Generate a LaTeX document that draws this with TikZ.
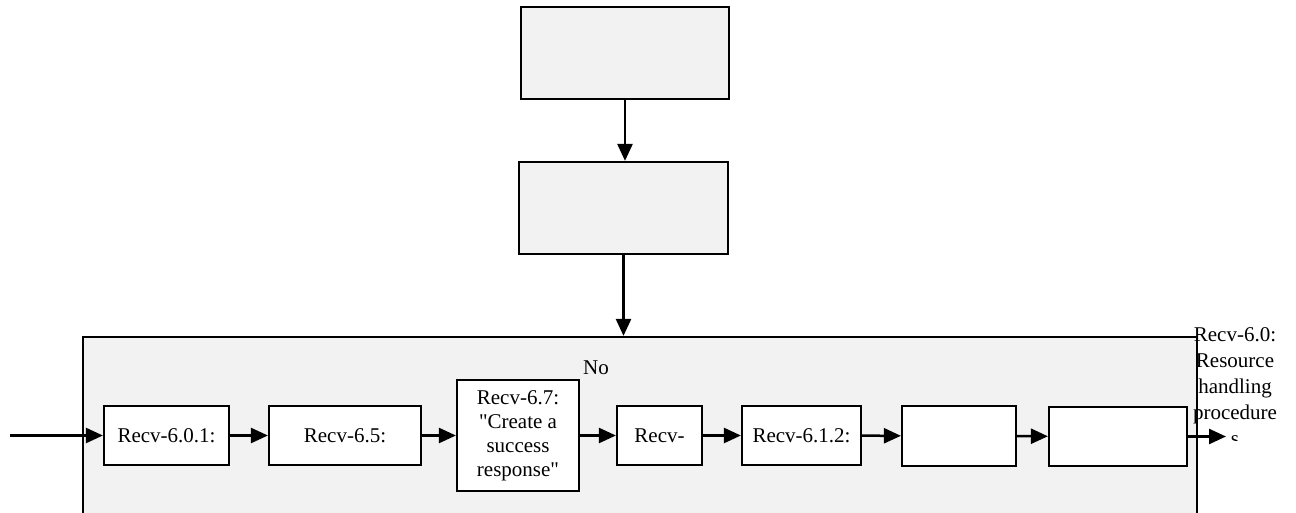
\documentclass[tikz,border=0pt]{standalone}
\usepackage{fontspec}
\setmainfont{Liberation Serif}[Ligatures=TeXOff]
\usetikzlibrary{arrows.meta}
\begin{document}
\begin{tikzpicture}[x=1pt,y=-1pt,
  box/.style={draw=black, line width=2.2pt, inner sep=0pt, fill=white, align=center},
  graybox/.style={box, fill=boxgray},
  arr/.style={line width=2.5pt, -{Triangle[length=17pt,width=15pt]}},
  txt/.style={font=\fontsize{21}{24}\selectfont}
]
\definecolor{boxgray}{HTML}{F2F2F2}
\clip (0,0) rectangle (1296,513);
\fill[white] (0,0) rectangle (1296,513);
% large container
\node[graybox, minimum width=1114pt, minimum height=240pt] (big) at (640,457) {};
% top boxes
\node[graybox, minimum width=208pt, minimum height=92pt] (t1) at (625,53) {};
\node[graybox, minimum width=209pt, minimum height=92pt] (t2) at (623.5,208) {};
% row boxes
\node[box, txt, minimum width=125pt, minimum height=59pt] (r1) at (166.5,435.5) {Recv-6.0.1:};
\node[box, txt, minimum width=152pt, minimum height=59pt] (r2) at (345,435.5) {Recv-6.5:};
\node[box, txt, minimum width=122pt, minimum height=111pt] (r3) at (518,435.5) {Recv-6.7:\\"Create a\\success\\response"};
\node[box, txt, minimum width=85pt, minimum height=59pt] (r4) at (659.5,435.5) {Recv-};
\node[box, txt, minimum width=119pt, minimum height=59pt] (r5) at (801.5,435.5) {Recv-6.1.2:};
\node[box, minimum width=114pt, minimum height=60pt] (r6) at (959,436) {};
\node[box, minimum width=138pt, minimum height=59pt] (r7) at (1118,436.5) {};
% labels
\node[txt, inner sep=0pt] (no) at (596,368) {No};
\begin{scope}
\clip (1150,300) rectangle (1296,440);
\node[font=\fontsize{21}{26}\selectfont, align=center, inner sep=0pt, anchor=north] (res) at (1235,327.5) {Recv-6.0:\\Resource\\handling\\procedure\\s};
\end{scope}
% connectors
\coordinate (src) at (10,435.5);
\coordinate (sink) at (1226,436.5);
\draw[arr] (t1.south) -- (t1.south |- t2.north);
\draw[arr] (t2.south) -- (t2.south |- big.north);
\draw[arr] (src) -- (r1.west);
\draw[arr] (r1) -- (r2);
\draw[arr] (r2) -- (r3);
\draw[arr] (r3) -- (r4);
\draw[arr] (r4) -- (r5);
\draw[arr] (r5) -- (r6);
\draw[arr] (r6) -- (r7);
\draw[arr] (r7.east) -- (sink);
\end{tikzpicture}
\end{document}
